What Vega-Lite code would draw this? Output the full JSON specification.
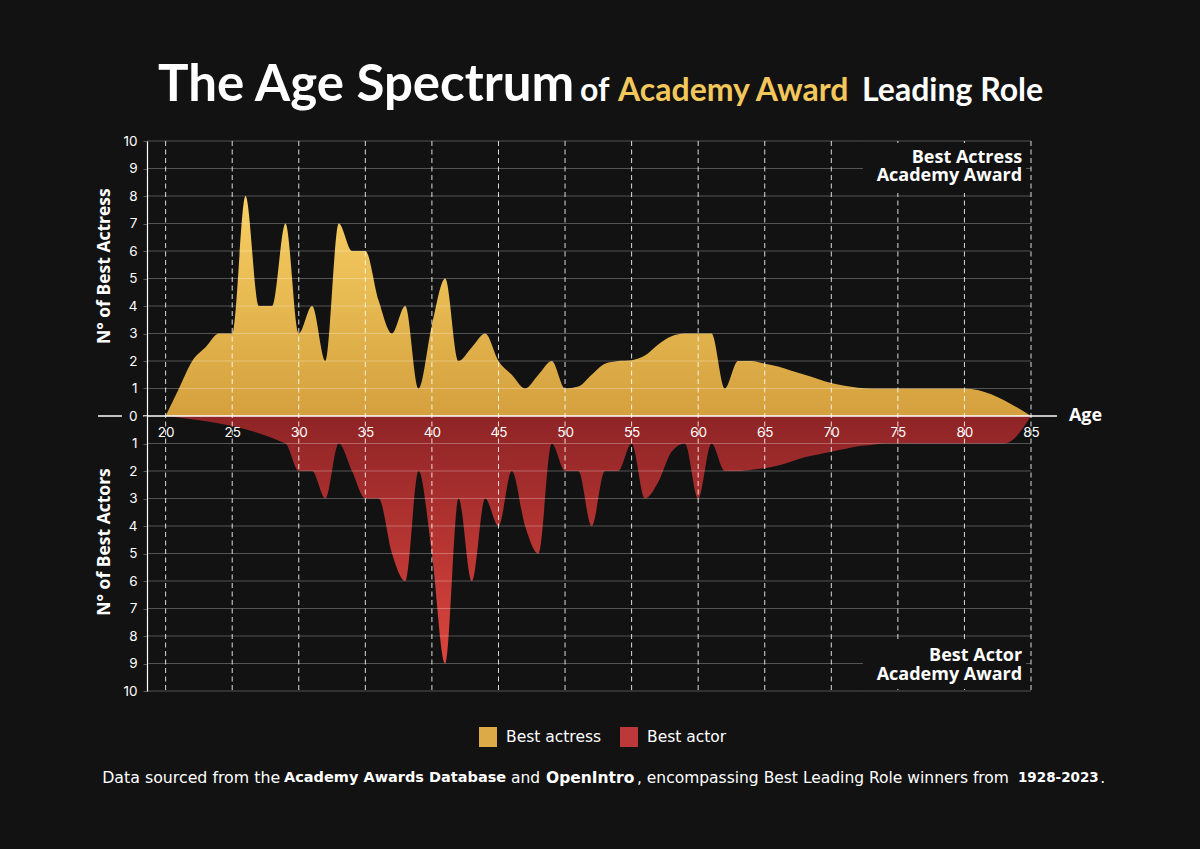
{
  "$schema": "https://vega.github.io/schema/vega-lite/v6.json",
  "width": 884,
  "height": 550,
  "autosize": {"type": "none"},
  "padding": {"left": 147, "top": 141, "right": 169, "bottom": 158},
  "background": "#121212",
  "config": {
    "view": {"stroke": null},
    "font": "Inter",
    "text": {"color": "#ffffff"},
    "axis": {"labelOverlap": false, "title": null}
  },
  "resolve": {"axis": {"x": "independent", "y": "independent"}},
  "datasets": {
    "ages": [
      {"age": 20, "award": "Best actress", "n": 0},
      {"age": 21, "award": "Best actress", "n": 1},
      {"age": 22, "award": "Best actress", "n": 2},
      {"age": 23, "award": "Best actress", "n": 2.5},
      {"age": 24, "award": "Best actress", "n": 3},
      {"age": 25, "award": "Best actress", "n": 3},
      {"age": 26, "award": "Best actress", "n": 8},
      {"age": 27, "award": "Best actress", "n": 4},
      {"age": 28, "award": "Best actress", "n": 4},
      {"age": 29, "award": "Best actress", "n": 7},
      {"age": 30, "award": "Best actress", "n": 3},
      {"age": 31, "award": "Best actress", "n": 4},
      {"age": 32, "award": "Best actress", "n": 2},
      {"age": 33, "award": "Best actress", "n": 7},
      {"age": 34, "award": "Best actress", "n": 6},
      {"age": 35, "award": "Best actress", "n": 6},
      {"age": 36, "award": "Best actress", "n": 4.2},
      {"age": 37, "award": "Best actress", "n": 3},
      {"age": 38, "award": "Best actress", "n": 4},
      {"age": 39, "award": "Best actress", "n": 1},
      {"age": 40, "award": "Best actress", "n": 3.3},
      {"age": 41, "award": "Best actress", "n": 5},
      {"age": 42, "award": "Best actress", "n": 2},
      {"age": 43, "award": "Best actress", "n": 2.5},
      {"age": 44, "award": "Best actress", "n": 3},
      {"age": 45, "award": "Best actress", "n": 2},
      {"age": 46, "award": "Best actress", "n": 1.5},
      {"age": 47, "award": "Best actress", "n": 1},
      {"age": 48, "award": "Best actress", "n": 1.5},
      {"age": 49, "award": "Best actress", "n": 2},
      {"age": 50, "award": "Best actress", "n": 1},
      {"age": 51, "award": "Best actress", "n": 1.07},
      {"age": 52, "award": "Best actress", "n": 1.5},
      {"age": 53, "award": "Best actress", "n": 1.9},
      {"age": 54, "award": "Best actress", "n": 2},
      {"age": 55, "award": "Best actress", "n": 2.03},
      {"age": 56, "award": "Best actress", "n": 2.2},
      {"age": 57, "award": "Best actress", "n": 2.6},
      {"age": 58, "award": "Best actress", "n": 2.9},
      {"age": 59, "award": "Best actress", "n": 3},
      {"age": 60, "award": "Best actress", "n": 3},
      {"age": 61, "award": "Best actress", "n": 3},
      {"age": 62, "award": "Best actress", "n": 1},
      {"age": 63, "award": "Best actress", "n": 2},
      {"age": 64, "award": "Best actress", "n": 2},
      {"age": 65, "award": "Best actress", "n": 1.9},
      {"age": 66, "award": "Best actress", "n": 1.8},
      {"age": 67, "award": "Best actress", "n": 1.65},
      {"age": 68, "award": "Best actress", "n": 1.5},
      {"age": 69, "award": "Best actress", "n": 1.35},
      {"age": 70, "award": "Best actress", "n": 1.2},
      {"age": 71, "award": "Best actress", "n": 1.1},
      {"age": 72, "award": "Best actress", "n": 1.03},
      {"age": 73, "award": "Best actress", "n": 1},
      {"age": 74, "award": "Best actress", "n": 1},
      {"age": 75, "award": "Best actress", "n": 1},
      {"age": 76, "award": "Best actress", "n": 1},
      {"age": 77, "award": "Best actress", "n": 1},
      {"age": 78, "award": "Best actress", "n": 1},
      {"age": 79, "award": "Best actress", "n": 1},
      {"age": 80, "award": "Best actress", "n": 1},
      {"age": 85, "award": "Best actress", "n": 0},
      {"age": 20, "award": "Best actor", "n": 0},
      {"age": 29, "award": "Best actor", "n": -1},
      {"age": 30, "award": "Best actor", "n": -2},
      {"age": 31, "award": "Best actor", "n": -2},
      {"age": 32, "award": "Best actor", "n": -3},
      {"age": 33, "award": "Best actor", "n": -1},
      {"age": 34, "award": "Best actor", "n": -2},
      {"age": 35, "award": "Best actor", "n": -3},
      {"age": 36, "award": "Best actor", "n": -3},
      {"age": 37, "award": "Best actor", "n": -5},
      {"age": 38, "award": "Best actor", "n": -6},
      {"age": 39, "award": "Best actor", "n": -2},
      {"age": 40, "award": "Best actor", "n": -5},
      {"age": 41, "award": "Best actor", "n": -9},
      {"age": 42, "award": "Best actor", "n": -3},
      {"age": 43, "award": "Best actor", "n": -6},
      {"age": 44, "award": "Best actor", "n": -3},
      {"age": 45, "award": "Best actor", "n": -4},
      {"age": 46, "award": "Best actor", "n": -2},
      {"age": 47, "award": "Best actor", "n": -4},
      {"age": 48, "award": "Best actor", "n": -5},
      {"age": 49, "award": "Best actor", "n": -1},
      {"age": 50, "award": "Best actor", "n": -2},
      {"age": 51, "award": "Best actor", "n": -2},
      {"age": 52, "award": "Best actor", "n": -4},
      {"age": 53, "award": "Best actor", "n": -2},
      {"age": 54, "award": "Best actor", "n": -2},
      {"age": 55, "award": "Best actor", "n": -1},
      {"age": 56, "award": "Best actor", "n": -3},
      {"age": 57, "award": "Best actor", "n": -2.4},
      {"age": 58, "award": "Best actor", "n": -1.3},
      {"age": 59, "award": "Best actor", "n": -1},
      {"age": 60, "award": "Best actor", "n": -3},
      {"age": 61, "award": "Best actor", "n": -1},
      {"age": 62, "award": "Best actor", "n": -2},
      {"age": 63, "award": "Best actor", "n": -2},
      {"age": 64, "award": "Best actor", "n": -1.95},
      {"age": 65, "award": "Best actor", "n": -1.9},
      {"age": 66, "award": "Best actor", "n": -1.8},
      {"age": 67, "award": "Best actor", "n": -1.65},
      {"age": 68, "award": "Best actor", "n": -1.5},
      {"age": 69, "award": "Best actor", "n": -1.4},
      {"age": 70, "award": "Best actor", "n": -1.3},
      {"age": 71, "award": "Best actor", "n": -1.2},
      {"age": 72, "award": "Best actor", "n": -1.1},
      {"age": 73, "award": "Best actor", "n": -1.05},
      {"age": 74, "award": "Best actor", "n": -1},
      {"age": 75, "award": "Best actor", "n": -1},
      {"age": 76, "award": "Best actor", "n": -1},
      {"age": 77, "award": "Best actor", "n": -1},
      {"age": 78, "award": "Best actor", "n": -1},
      {"age": 79, "award": "Best actor", "n": -1},
      {"age": 80, "award": "Best actor", "n": -1},
      {"age": 81, "award": "Best actor", "n": -1},
      {"age": 82, "award": "Best actor", "n": -1},
      {"age": 83, "award": "Best actor", "n": -1},
      {"age": 85, "award": "Best actor", "n": 0}
    ]
  },
  "layer": [
    {
      "data": {"name": "ages"},
      "transform": [{"filter": "datum.award == 'Best actress'"}],
      "mark": {
        "type": "area",
        "interpolate": "monotone",
        "color": {
          "gradient": "linear", "x1": 0, "y1": 0, "x2": 0, "y2": 1,
          "stops": [{"offset": 0, "color": "#f8d064"}, {"offset": 1, "color": "#d4a03d"}]
        }
      },
      "encoding": {
        "x": {
          "field": "age", "type": "quantitative",
          "scale": {"domain": [18.6, 85], "nice": false, "zero": false},
          "axis": {
            "orient": "bottom", "offset": -275,
            "values": [20, 25, 30, 35, 40, 45, 50, 55, 60, 65, 70, 75, 80, 85],
            "domain": false, "ticks": false, "grid": false,
            "labelColor": "#ffffff", "labelFontSize": 13.5, "labelPadding": 9,
            "labelFlush": false, "labelOverlap": false, "title": null, "zindex": 1
          }
        },
        "y": {
          "field": "n", "type": "quantitative",
          "scale": {"domain": [-10, 10], "nice": false},
          "axis": {
            "orient": "left",
            "values": [-10, -9, -8, -7, -6, -5, -4, -3, -2, -1, 0, 1, 2, 3, 4, 5, 6, 7, 8, 9, 10],
            "labelExpr": "abs(datum.value)",
            "domain": true, "domainColor": "#ffffff", "domainWidth": 1.2,
            "ticks": true, "tickSize": 4, "tickColor": "#5a5a5a",
            "grid": false, "labelColor": "#ffffff", "labelFontSize": 13.5,
            "labelPadding": 6, "labelFlush": false, "labelOverlap": false,
            "title": null, "zindex": 1
          }
        }
      }
    },
    {
      "data": {"name": "ages"},
      "transform": [{"filter": "datum.award == 'Best actor'"}],
      "mark": {
        "type": "area",
        "interpolate": "monotone",
        "color": {
          "gradient": "linear", "x1": 0, "y1": 0, "x2": 0, "y2": 1,
          "stops": [{"offset": 0, "color": "#8e2426"}, {"offset": 1, "color": "#dc453d"}]
        }
      },
      "encoding": {
        "x": {"field": "age", "type": "quantitative", "axis": null},
        "y": {"field": "n", "type": "quantitative", "axis": null}
      }
    },
    {
      "data": {"values": [
        {"age": 20}, {"age": 25}, {"age": 30}, {"age": 35}, {"age": 40}, {"age": 45}, {"age": 50},
        {"age": 55}, {"age": 60}, {"age": 65}, {"age": 70}, {"age": 75}, {"age": 80}, {"age": 85}
      ]},
      "mark": {"type": "rule", "color": "#ffffff", "opacity": 0.85, "strokeWidth": 1, "strokeDash": [5, 3.5]},
      "encoding": {"x": {"field": "age", "type": "quantitative", "axis": null}}
    },
    {
      "data": {"values": [
        {"v": -10}, {"v": -9}, {"v": -8}, {"v": -7}, {"v": -6}, {"v": -5}, {"v": -4}, {"v": -3}, {"v": -2}, {"v": -1},
        {"v": 1}, {"v": 2}, {"v": 3}, {"v": 4}, {"v": 5}, {"v": 6}, {"v": 7}, {"v": 8}, {"v": 9}, {"v": 10}
      ]},
      "mark": {"type": "rule", "color": "#ffffff", "opacity": 0.28, "strokeWidth": 1},
      "encoding": {"y": {"field": "v", "type": "quantitative", "axis": null}}
    },
    {
      "data": {"values": [{}]},
      "mark": {"type": "rule", "color": "#ffffff", "strokeWidth": 1.5},
      "encoding": {"x": {"datum": 18.3, "axis": null}, "x2": {"datum": 86.95}, "y": {"datum": 0, "axis": null}}
    },
    {
      "data": {"values": [{}]},
      "mark": {"type": "rule", "color": "#ffffff", "strokeWidth": 1.5},
      "encoding": {"x": {"datum": 14.92, "axis": null}, "x2": {"datum": 16.72}, "y": {"datum": 0, "axis": null}}
    },
    {
      "data": {"values": [{}]},
      "mark": {"type": "rect", "color": "#121212"},
      "encoding": {"x": {"datum": 72.38, "axis": null}, "x2": {"datum": 84.62}, "y": {"datum": 9.93, "axis": null}, "y2": {"datum": 8.11}}
    },
    {
      "data": {"values": [{}]},
      "mark": {"type": "rect", "color": "#121212"},
      "encoding": {"x": {"datum": 72.38, "axis": null}, "x2": {"datum": 84.62}, "y": {"datum": -8.15, "axis": null}, "y2": {"datum": -9.93}}
    },
    {
      "data": {"values": [{}]},
      "mark": {"type": "text", "text": "Best Actress", "align": "right", "baseline": "middle", "font": "Open Sans", "fontWeight": "bold", "fontSize": 18},
      "encoding": {"x": {"datum": 84.33, "axis": null}, "y": {"datum": 9.39, "axis": null}}
    },
    {
      "data": {"values": [{}]},
      "mark": {"type": "text", "text": "Academy Award", "align": "right", "baseline": "middle", "font": "Open Sans", "fontWeight": "bold", "fontSize": 18},
      "encoding": {"x": {"datum": 84.33, "axis": null}, "y": {"datum": 8.71, "axis": null}}
    },
    {
      "data": {"values": [{}]},
      "mark": {"type": "text", "text": "Best Actor", "align": "right", "baseline": "middle", "font": "Open Sans", "fontWeight": "bold", "fontSize": 18},
      "encoding": {"x": {"datum": 84.33, "axis": null}, "y": {"datum": -8.73, "axis": null}}
    },
    {
      "data": {"values": [{}]},
      "mark": {"type": "text", "text": "Academy Award", "align": "right", "baseline": "middle", "font": "Open Sans", "fontWeight": "bold", "fontSize": 18},
      "encoding": {"x": {"datum": 84.33, "axis": null}, "y": {"datum": -9.41, "axis": null}}
    },
    {
      "data": {"values": [{}]},
      "mark": {"type": "text", "text": "Age", "align": "left", "baseline": "middle", "font": "Open Sans", "fontWeight": "bold", "fontSize": 18},
      "encoding": {"x": {"datum": 87.85, "axis": null}, "y": {"datum": 0, "axis": null}}
    },
    {
      "data": {"values": [{}]},
      "mark": {"type": "text", "text": "N° of Best Actress", "angle": 270, "align": "center", "baseline": "middle", "font": "Open Sans", "fontWeight": "bold", "fontSize": 17.5},
      "encoding": {"x": {"datum": 15.45, "axis": null}, "y": {"datum": 5.45, "axis": null}}
    },
    {
      "data": {"values": [{}]},
      "mark": {"type": "text", "text": "N° of Best Actors", "angle": 270, "align": "center", "baseline": "middle", "font": "Open Sans", "fontWeight": "bold", "fontSize": 17.5},
      "encoding": {"x": {"datum": 15.45, "axis": null}, "y": {"datum": -4.58, "axis": null}}
    },
    {
      "data": {"values": [{}]},
      "mark": {"type": "text", "text": "The Age Spectrum", "align": "left", "baseline": "alphabetic", "font": "Lato", "fontWeight": "bold", "fontSize": 51},
      "encoding": {"x": {"datum": 19.43, "axis": null}, "y": {"datum": 11.45, "axis": null}}
    },
    {
      "data": {"values": [{}]},
      "mark": {"type": "text", "text": "of", "align": "left", "baseline": "alphabetic", "font": "Lato", "fontWeight": "bold", "fontSize": 32},
      "encoding": {"x": {"datum": 51.12, "axis": null}, "y": {"datum": 11.45, "axis": null}}
    },
    {
      "data": {"values": [{}]},
      "mark": {"type": "text", "text": "Academy Award", "align": "left", "baseline": "alphabetic", "font": "Lato", "fontWeight": "bold", "fontSize": 32, "color": "#f2c85c"},
      "encoding": {"x": {"datum": 53.98, "axis": null}, "y": {"datum": 11.45, "axis": null}}
    },
    {
      "data": {"values": [{}]},
      "mark": {"type": "text", "text": "Leading Role", "align": "left", "baseline": "alphabetic", "font": "Lato", "fontWeight": "bold", "fontSize": 32},
      "encoding": {"x": {"datum": 72.31, "axis": null}, "y": {"datum": 11.45, "axis": null}}
    },
    {
      "data": {"values": [{}]},
      "mark": {"type": "text", "text": "Data sourced from the", "align": "right", "baseline": "middle", "font": "DejaVu Sans", "fontSize": 15.8},
      "encoding": {"x": {"datum": 28.6, "axis": null}, "y": {"datum": -13.16, "axis": null}}
    },
    {
      "data": {"values": [{}]},
      "mark": {"type": "text", "text": "Academy Awards Database", "align": "left", "baseline": "middle", "font": "DejaVu Sans", "fontSize": 14.5, "fontWeight": "bold"},
      "encoding": {"x": {"datum": 28.89, "axis": null}, "y": {"datum": -13.16, "axis": null}}
    },
    {
      "data": {"values": [{}]},
      "mark": {"type": "text", "text": "and", "align": "left", "baseline": "middle", "font": "DejaVu Sans", "fontSize": 15.5},
      "encoding": {"x": {"datum": 45.94, "axis": null}, "y": {"datum": -13.16, "axis": null}}
    },
    {
      "data": {"values": [{}]},
      "mark": {"type": "text", "text": "OpenIntro", "align": "left", "baseline": "middle", "font": "DejaVu Sans", "fontSize": 15.5, "fontWeight": "bold"},
      "encoding": {"x": {"datum": 48.57, "axis": null}, "y": {"datum": -13.16, "axis": null}}
    },
    {
      "data": {"values": [{}]},
      "mark": {"type": "text", "text": ", encompassing Best Leading Role winners from", "align": "left", "baseline": "middle", "font": "DejaVu Sans", "fontSize": 15.5},
      "encoding": {"x": {"datum": 55.4, "axis": null}, "y": {"datum": -13.16, "axis": null}}
    },
    {
      "data": {"values": [{}]},
      "mark": {"type": "text", "text": "1928-2023", "align": "left", "baseline": "middle", "font": "DejaVu Sans", "fontSize": 13.5, "fontWeight": "bold"},
      "encoding": {"x": {"datum": 84.02, "axis": null}, "y": {"datum": -13.16, "axis": null}}
    },
    {
      "data": {"values": [{}]},
      "mark": {"type": "text", "text": ".", "align": "left", "baseline": "middle", "font": "DejaVu Sans", "fontSize": 15.5},
      "encoding": {"x": {"datum": 90.2, "axis": null}, "y": {"datum": -13.16, "axis": null}}
    },
    {
      "data": {"name": "ages"},
      "mark": {"type": "point", "filled": true, "opacity": 0},
      "encoding": {
        "x": {"field": "age", "type": "quantitative", "axis": null},
        "y": {"field": "n", "type": "quantitative", "axis": null},
        "color": {
          "field": "award", "type": "nominal",
          "scale": {"domain": ["Best actress", "Best actor"], "range": ["#dcab48", "#bd3838"]},
          "legend": {
            "orient": "none", "legendX": 331, "legendY": 586, "direction": "horizontal",
            "title": null, "symbolType": "M-0.9,-1H0.9V1H-0.9Z", "symbolSize": 400,
            "symbolOpacity": 1, "symbolStrokeWidth": 0, "labelColor": "#ffffff",
            "labelFont": "DejaVu Sans", "labelFontSize": 15.5, "labelOffset": 8,
            "columnPadding": 17, "padding": 0
          }
        }
      }
    }
  ]
}
